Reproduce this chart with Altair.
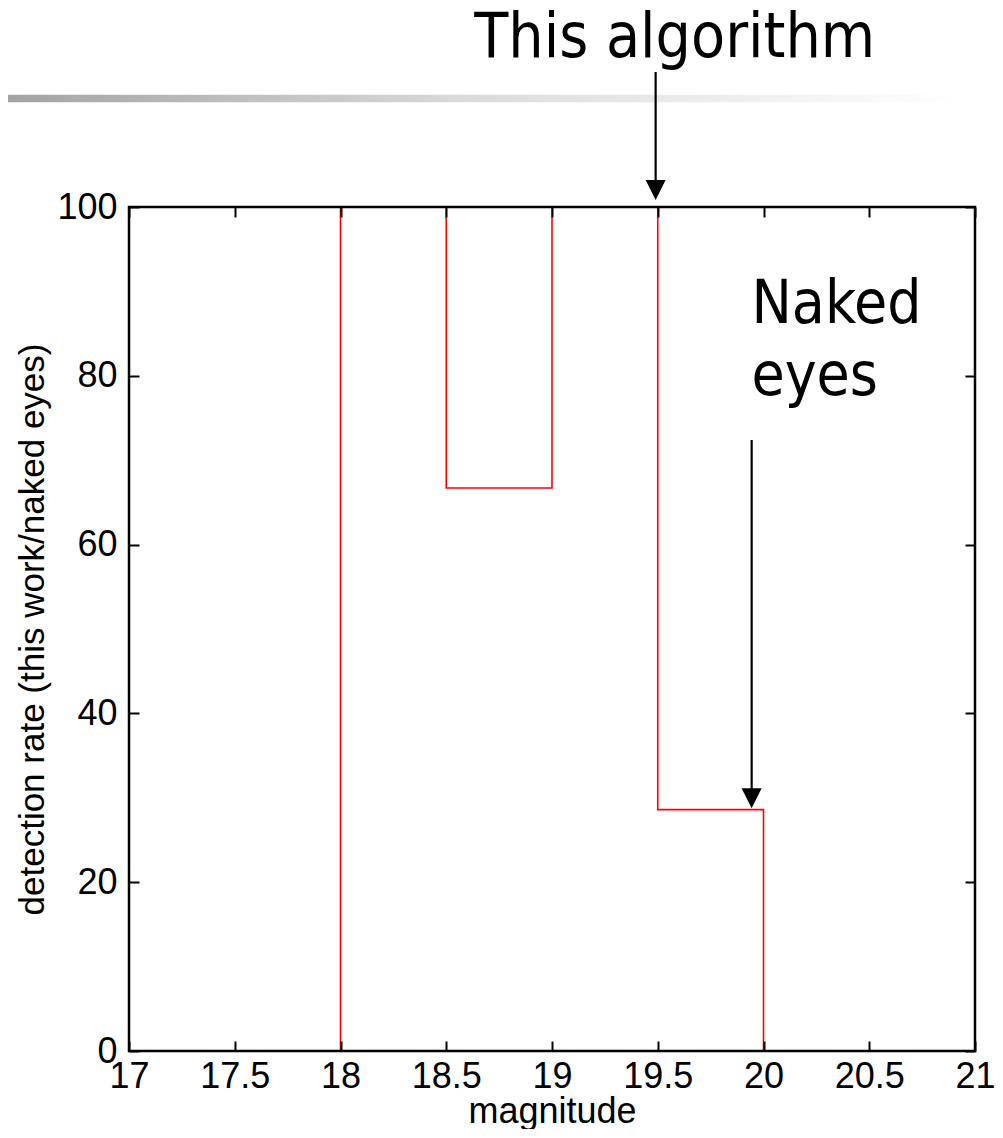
import altair as alt
import pandas as pd

# ---- data ----
XDOM = [17, 21]
YDOM = [0, 100]
XTICKS = [17, 17.5, 18, 18.5, 19, 19.5, 20, 20.5, 21]
YTICKS = [0, 20, 40, 60, 80, 100]
BIN_EDGES = [18, 18.5, 19, 19.5, 20]
RATES = [100, 66.7, 100, 28.6]

TITLE_TEXT = ["This algorithm"]
TITLE_X = [19.58]
TITLE_Y = [117.8]

NAKED_TEXT = ["Naked", "eyes"]
NAKED_X = [19.943, 19.943]
NAKED_Y = [86.26, 77.73]

ARROW_X = [19.49, 19.944]
ARROW_TOP = [116.0, 72.4]
ARROW_END = [103.0, 31.0]
ARROW_HEAD_Y = [102.0, 29.95]

BAR_X = [16.39, 20.93]
BAR_Y = [113.3, 112.4]

# ---- build step path ----
sx, sy = [BIN_EDGES[0]], [0]
for i, r in enumerate(RATES):
    sx += [BIN_EDGES[i], BIN_EDGES[i + 1]]
    sy += [r, r]
sx.append(BIN_EDGES[-1])
sy.append(0)
step = pd.DataFrame({"x": sx, "y": sy, "o": list(range(len(sx)))})

XS = alt.Scale(domain=XDOM, nice=False, zero=False)
YS = alt.Scale(domain=YDOM, nice=False, zero=False)
LFONT = "Liberation Sans"
AFONT = "DejaVu Sans Condensed"

main_x_axis = alt.Axis(orient="bottom", values=XTICKS, format="~g", ticks=False, domain=False, grid=False,
                       labelFontSize=36, labelFont=LFONT, labelColor="black", labelPadding=8,
                       title="magnitude", titleFont=LFONT, titleFontSize=36, titleFontWeight="normal",
                       titleColor="black", titlePadding=0, labelFlush=False, labelOverlap=False)
main_y_axis = alt.Axis(orient="left", values=YTICKS, format="d", ticks=False, domain=False, grid=False,
                       labelFontSize=36, labelFont=LFONT, labelColor="black", labelPadding=12,
                       title="detection rate (this work/naked eyes)", titleFont=LFONT, titleFontSize=35,
                       titleFontWeight="normal", titleColor="black", titlePadding=6,
                       labelFlush=False, labelOverlap=False)

line = alt.Chart(step).mark_line(color="#ff0000", strokeWidth=1.6).encode(
    x=alt.X("x:Q", scale=XS, axis=main_x_axis),
    y=alt.Y("y:Q", scale=YS, axis=main_y_axis),
    order="o:Q",
)


def tick_axis(orient, values):
    return alt.Axis(orient=orient, values=values, offset=-10, tickSize=10, tickWidth=2,
                    tickColor="black", labels=False, domain=False, grid=False, title=None, zindex=1)


ticks_bl = alt.Chart(step).mark_line(opacity=0).encode(
    x=alt.X("x:Q", scale=XS, axis=tick_axis("bottom", XTICKS)),
    y=alt.Y("y:Q", scale=YS, axis=tick_axis("left", YTICKS)),
    order="o:Q",
)
ticks_tr = alt.Chart(step).mark_line(opacity=0).encode(
    x=alt.X("x:Q", scale=XS, axis=tick_axis("top", XTICKS)),
    y=alt.Y("y:Q", scale=YS, axis=tick_axis("right", YTICKS)),
    order="o:Q",
)

frame_df = pd.DataFrame({"x": [XDOM[0]], "x2": [XDOM[1]], "y": [YDOM[0]], "y2": [YDOM[1]]})
frame = alt.Chart(frame_df).mark_rect(filled=False, stroke="black", strokeWidth=2.5).encode(
    x=alt.X("x:Q", scale=XS, axis=None), x2="x2:Q",
    y=alt.Y("y:Q", scale=YS, axis=None), y2="y2:Q",
)

bar_df = pd.DataFrame({"x": [BAR_X[0]], "x2": [BAR_X[1]], "y": [BAR_Y[0]], "y2": [BAR_Y[1]]})
grad = alt.LinearGradient(
    gradient="linear",
    stops=[alt.GradientStop(color="#a2a2a2", offset=0),
           alt.GradientStop(color="#dcdcdc", offset=0.5),
           alt.GradientStop(color="#ffffff", offset=1)],
    x1=0, x2=1, y1=0, y2=0,
)
bar = alt.Chart(bar_df).mark_rect(color=grad).encode(
    x=alt.X("x:Q", scale=XS, axis=None), x2="x2:Q",
    y=alt.Y("y:Q", scale=YS, axis=None), y2="y2:Q",
)

arrow_df = pd.DataFrame({"x": ARROW_X, "y": ARROW_TOP, "y2": ARROW_END, "hy": ARROW_HEAD_Y})
shafts = alt.Chart(arrow_df).mark_rule(color="black", strokeWidth=2.2).encode(
    x=alt.X("x:Q", scale=XS, axis=None),
    y=alt.Y("y:Q", scale=YS, axis=None), y2="y2:Q",
)
heads = alt.Chart(arrow_df).mark_point(shape="M-1,-1L1,-1L0,1Z", filled=True, color="black",
                                       size=400, opacity=1, strokeWidth=0).encode(
    x=alt.X("x:Q", scale=XS, axis=None),
    y=alt.Y("hy:Q", scale=YS, axis=None),
)

title_df = pd.DataFrame({"t": TITLE_TEXT, "x": TITLE_X, "y": TITLE_Y})
title_txt = alt.Chart(title_df).mark_text(font=AFONT, fontSize=62, align="center",
                                          baseline="alphabetic", color="black").encode(
    x=alt.X("x:Q", scale=XS, axis=None),
    y=alt.Y("y:Q", scale=YS, axis=None),
    text="t:N",
)
naked_df = pd.DataFrame({"t": NAKED_TEXT, "x": NAKED_X, "y": NAKED_Y})
naked_txt = alt.Chart(naked_df).mark_text(font=AFONT, fontSize=60, align="left",
                                          baseline="alphabetic", color="black").encode(
    x=alt.X("x:Q", scale=XS, axis=None),
    y=alt.Y("y:Q", scale=YS, axis=None),
    text="t:N",
)

chart = alt.layer(
    bar, line, ticks_bl, ticks_tr, frame, shafts, heads, title_txt, naked_txt
).resolve_axis(x="independent", y="independent").properties(
    width=846, height=844,
    autosize=alt.AutoSizeParams(type="none"),
    padding={"left": 121, "top": 199, "right": 20, "bottom": 78},
).configure_view(stroke=None).configure(background="white")

chart.save("out.html", embed_options={"renderer": "svg", "actions": False})
